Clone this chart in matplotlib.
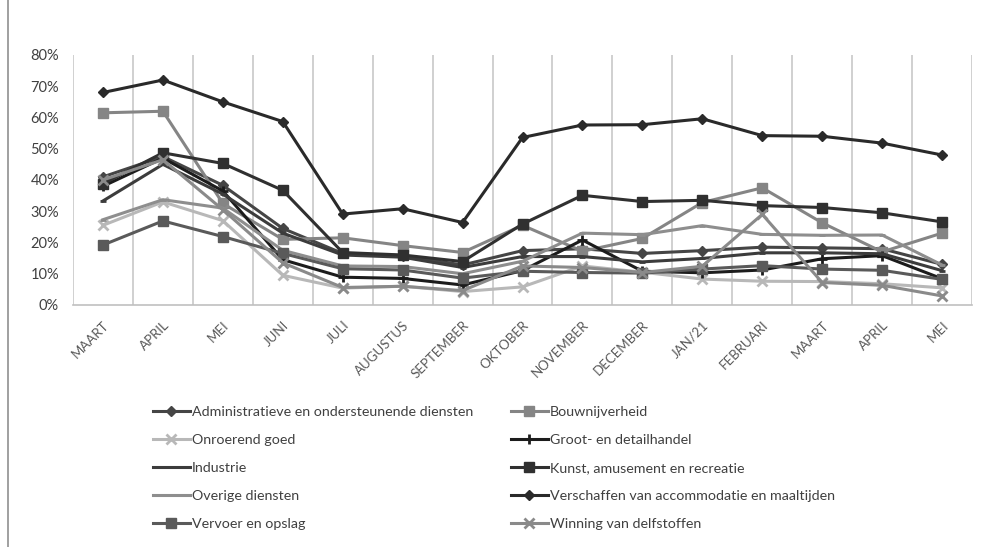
import matplotlib
matplotlib.use("Agg")
import matplotlib.pyplot as plt
from matplotlib.lines import Line2D
from matplotlib.ticker import PercentFormatter

plt.rcParams['font.family'] = ['Lato', 'DejaVu Sans']

months = ["MAART", "APRIL", "MEI", "JUNI", "JULI", "AUGUSTUS", "SEPTEMBER", "OKTOBER",
          "NOVEMBER", "DECEMBER", "JAN/21", "FEBRUARI", "MAART", "APRIL", "MEI"]

admin       = [41, 47.5, 38.3, 24.5, 16.5, 15.8, 12.8, 17.4, 18, 16.5, 17.4, 18.5, 18.3, 18, 13]
bouw        = [61.5, 62, 32.5, 21, 21.5, 19, 16.8, 25.5, 17.2, 21.3, 32.8, 37.5, 26.3, 17, 23]
onroerend   = [25.5, 33, 27, 9.5, 5.4, 6, 4.3, 5.8, 12.5, 10.5, 8.3, 7.6, 7.5, 6.8, 5.5]
groot       = [38, 47, 36.5, 14.5, 8.9, 8.5, 6.4, 11, 20.8, 10.8, 10.3, 11.2, 14.8, 15.8, 8.4]
industrie   = [33.3, 45, 35.5, 23, 16, 15.3, 12, 15.5, 15.5, 13.8, 14.9, 16.7, 16.7, 16.4, 11]
kunst       = [38.8, 48.7, 45.3, 36.7, 16.8, 16, 13.9, 25.9, 35.1, 33.1, 33.5, 31.8, 31.2, 29.5, 26.6]
overige     = [27.3, 33.7, 31, 17.5, 12.5, 12.3, 10, 14, 23, 22.5, 25.4, 22.6, 22.3, 22.4, 12.8]
verschaffen = [68, 72, 65, 58.7, 29.1, 30.8, 26.4, 53.6, 57.6, 57.7, 59.6, 54.2, 54, 51.8, 48]
vervoer     = [19.2, 26.9, 21.9, 16.5, 11.6, 11.2, 8.6, 10.8, 10.4, 10.2, 11.5, 12.6, 11.5, 11.1, 8.2]
winning     = [40, 46.5, 30.5, 13.5, 5.6, 6, 4.6, 12.5, 12, 10.4, 12.4, 29, 7.2, 6.3, 2.9]

series = [
    ("Administratieve en ondersteunende diensten", admin, "#454545", "D", 5),
    ("Bouwnijverheid", bouw, "#858585", "s", 7),
    ("Onroerend goed", onroerend, "#b8b8b8", "x", 7),
    ("Groot- en detailhandel", groot, "#1c1c1c", "+", 7),
    ("Industrie", industrie, "#3c3c3c", "_", 5),
    ("Kunst, amusement en recreatie", kunst, "#303030", "s", 7),
    ("Overige diensten", overige, "#8e8e8e", "_", 5),
    ("Verschaffen van accommodatie en maaltijden", verschaffen, "#2a2a2a", "D", 5),
    ("Vervoer en opslag", vervoer, "#5a5a5a", "s", 7),
    ("Winning van delfstoffen", winning, "#8a8a8a", "x", 7),
]

fig = plt.figure(figsize=(9.81, 5.47), dpi=100)
ax = fig.add_axes([73/981, 1-305/547, (972-73)/981, (305-55)/547])

x = list(range(len(months)))
handles = []
for name, vals, col, mk, ms in series:
    ln, = ax.plot(x, [v/100 for v in vals], color=col, lw=2.2, marker=mk, ms=ms,
                  mew=2 if mk in ("x", "+", "_") else 1, mec=col, mfc=col, label=name)
    handles.append(ln)

ax.set_xlim(-0.5, len(months)-0.5)
ax.set_ylim(0, 0.8)
ax.set_yticks([i/10 for i in range(9)])
ax.yaxis.set_major_formatter(PercentFormatter(1.0, decimals=0))
ax.set_xticks(x)
ax.set_xticklabels(months, rotation=45, ha='right', rotation_mode='anchor',
                   fontsize=9.5, color='#595959')
ax.tick_params(axis='y', length=0, pad=10, labelsize=10.5, labelcolor='#404040')
ax.tick_params(axis='x', length=0, pad=10)
for b in [i - 0.5 for i in range(len(months)+1)]:
    ax.axvline(b, color='#c8c8c8', lw=1.2, zorder=0)
for s in ['top', 'right', 'left']:
    ax.spines[s].set_visible(False)
ax.spines['bottom'].set_color('#c0c0c0')
ax.spines['bottom'].set_linewidth(1.2)

order = [0, 2, 4, 6, 8, 1, 3, 5, 7, 9]
fig.legend([handles[i] for i in order], [series[i][0] for i in order],
           ncol=2, loc='upper left', bbox_to_anchor=(140/981, 1-393/547),
           frameon=False, fontsize=10.3, handlelength=2.6, handletextpad=0.15,
           labelspacing=1.12, columnspacing=2.6, labelcolor='#404040')

fig.add_artist(Line2D([8/981, 8/981], [0, 1], color='#909090', lw=1.2,
                      transform=fig.transFigure))

fig.savefig("out.png", dpi=100)
